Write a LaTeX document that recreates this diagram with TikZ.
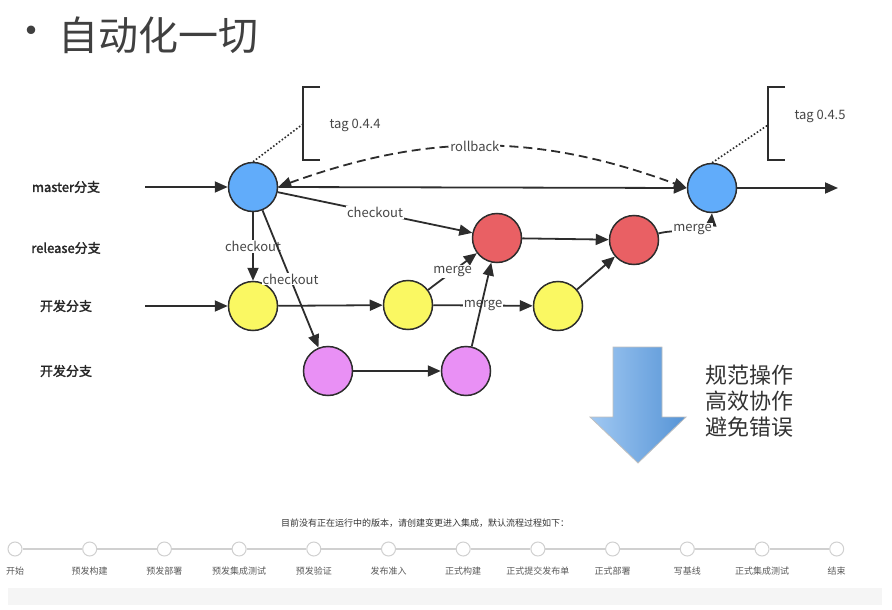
\documentclass[tikz,border=0pt]{standalone}
\usepackage{fontspec}
\setmainfont{Noto Sans CJK SC}[AutoFakeBold=2]
\usetikzlibrary{arrows.meta,positioning}

\definecolor{linecol}{RGB}{45,45,45}
\definecolor{txtcol}{RGB}{70,70,70}
\definecolor{mastercol}{RGB}{97,172,250}
\definecolor{releasecol}{RGB}{233,96,100}
\definecolor{devcol}{RGB}{250,248,98}
\definecolor{featcol}{RGB}{233,144,245}
\definecolor{arrowlight}{RGB}{160,200,242}
\definecolor{arrowdark}{RGB}{86,148,214}
\definecolor{stepgray}{RGB}{208,208,208}

\begin{document}
\begin{tikzpicture}[
  x=1pt, y=-1pt,
  commit/.style={circle, draw=linecol, line width=1.5pt, minimum size=49pt, inner sep=0pt},
  mastercommit/.style={commit, fill=mastercol},
  releasecommit/.style={commit, fill=releasecol},
  devcommit/.style={commit, fill=devcol},
  featcommit/.style={commit, fill=featcol},
  lbl/.style={fill=white, inner sep=1pt, text=txtcol, font=\fontsize{13}{13}\selectfont},
  branch/.style={text=black!85, font=\bfseries\fontsize{13}{15}\selectfont},
  flow/.style={draw=linecol, line width=1.8pt},
  flowstep/.style={circle, draw=stepgray, fill=white, line width=1pt, minimum size=14pt, inner sep=0pt},
  steplabel/.style={text=black!65, font=\fontsize{9}{9}\selectfont},
  >={Triangle[length=13pt,width=11pt]}
]
\useasboundingbox (0,0) rectangle (892,610);

% title
\node[text=black!75, font=\fontsize{40}{40}\selectfont] (bullet) at (31,36) {•};
\node[anchor=west, text=black!75, inner sep=0pt, font=\fontsize{40}{40}\selectfont] (title) at (58,35) {自动化一切};

% branch names
\node[branch] (lmaster) at (66,187) {master分支};
\node[branch] (lrelease) at (66,248) {release分支};
\node[branch] (ldev) at (66,306) {开发分支};
\node[branch] (lfeat) at (66,371) {开发分支};

% commits
\node[mastercommit] (m1) at (253,187) {};
\node[mastercommit] (m2) at (712,188) {};
\node[releasecommit] (r1) at (497,238) {};
\node[releasecommit] (r2) at (634,240) {};
\node[devcommit] (d1) at (253,306) {};
\node[devcommit] (d2) at (408,305) {};
\node[devcommit] (d3) at (558,306) {};
\node[featcommit] (f1) at (328,371) {};
\node[featcommit] (f2) at (466,371) {};

\coordinate (mstart) at (145,187);
\coordinate (mend) at (838,188);
\coordinate (dstart) at (145,306);

% tags
\coordinate (tag1) at (303,124);
\coordinate (tag2) at (768,125);
\draw[linecol, line width=1.5pt] (320,87) -- (303,87) -- (303,160) -- (320,160);
\draw[linecol, line width=1.5pt] (785,87) -- (768,87) -- (768,160) -- (785,160);
\node[anchor=west, text=txtcol, font=\fontsize{13}{13}\selectfont] (t1) at (326,125) {tag 0.4.4};
\node[anchor=west, text=txtcol, font=\fontsize{13}{13}\selectfont] (t2) at (791,116) {tag 0.4.5};
\draw[linecol, line width=1.6pt, dotted] (m1.north) -- (tag1);
\draw[linecol, line width=1.6pt, dotted] (m2.north) -- (tag2);

% master line
\draw[->, flow] (mstart) -- (m1);
\draw[->, flow] (m1.east) -- (m2.west);
\draw[->, flow] (m2) -- (mend);
\draw[<->, flow, dash pattern=on 9pt off 5pt] (m1.east) to[bend left=20] node[lbl, pos=0.48]{rollback} (m2.west);

% checkouts
\draw[->, flow] (m1) -- node[lbl]{checkout} (r1);
\draw[->, flow] (m1) -- node[lbl]{checkout} (d1);

% dev and feature lines
\draw[->, flow] (dstart) -- (d1);
\draw[->, flow] (d1) -- (d2);
\draw[->, flow] (d2) -- node[lbl]{merge} (d3);
\draw[->, flow] (d2) -- node[lbl]{merge} (r1);
\draw[->, flow] (f1) -- (f2);
\draw[->, flow] (f2) -- (r1);
\draw[->, flow] (m1) -- node[lbl, pos=0.5]{checkout} (f1);

% release line
\draw[->, flow] (r1) -- (r2);
\draw[->, flow] (d3) -- (r2);
\draw[->, flow] (r2) to[out=15, in=-95] node[lbl, pos=0.5]{merge} (m2.south);

% big arrow
\path[left color=arrowlight, right color=arrowdark, draw=black!25, line width=0.8pt]
  (613,347) -- (662,347) -- (662,417) -- (686,417) -- (638,463) -- (590,417) -- (613,417) -- cycle;
\node[anchor=west, align=left, text=black!80, font=\fontsize{22}{26}\selectfont] (goals) at (702,401) {规范操作\\高效协作\\避免错误};

% pipeline
\node[text=black!80, font=\fontsize{9}{9}\selectfont] (hint) at (425,523) {目前没有正在运行中的版本，请创建变更进入集成，默认流程过程如下：};
\foreach \lab [count=\i from 0] in {开始,预发构建,预发部署,预发集成测试,预发验证,发布准入,正式构建,正式提交发布单,正式部署,写基线,正式集成测试,结束} {
  \node[flowstep] (p\i) at (15+74.7*\i,549) {};
  \node[steplabel] (s\i) at (15+74.7*\i,571) {\lab};
}
\foreach \i [evaluate=\i as \j using int(\i+1)] in {0,...,10}
  \draw[stepgray, line width=1.2pt] (p\i) -- (p\j);
\fill[black!4] (8,588) rectangle (882,605);
\end{tikzpicture}
\end{document}
